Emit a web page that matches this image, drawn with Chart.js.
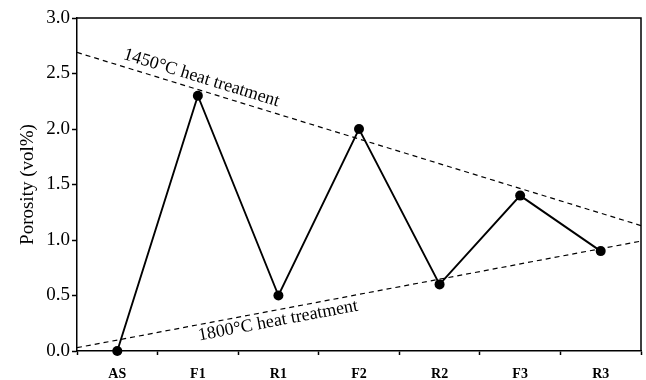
<!DOCTYPE html>
<html>
<head>
<meta charset="utf-8">
<script src="https://cdn.jsdelivr.net/npm/chart.js@4/dist/chart.umd.min.js"></script>
<style>
  html, body { margin: 0; padding: 0; background: #fff; }
  #wrap { width: 646px; height: 380px; }
</style>
</head>
<body>
<div id="wrap"><canvas id="c" width="646" height="380"></canvas></div>
<script>
// Sample stages along the heat-treatment sequence
const stages = ['AS', 'F1', 'R1', 'F2', 'R2', 'F3', 'R3'];
// Measured porosity (vol%) at each stage
const porosity = [0.0, 2.3, 0.5, 2.0, 0.6, 1.4, 0.9];
// Guide lines spanning the plot: value at left edge and right edge
const trendEdges = [-0.5, 6.5];
const upperTrend = [2.69, 1.13];   // 1450°C heat treatment
const lowerTrend = [0.03, 0.99];   // 1800°C heat treatment
const upperLabel = '1450°C heat treatment';
const lowerLabel = '1800°C heat treatment';
const yTicks = [0, 0.5, 1.0, 1.5, 2.0, 2.5, 3.0];

const SERIF = '"Liberation Serif", "DejaVu Serif", serif';

// Frame: top and right edges of the plot box
const framePlugin = {
  id: 'frame',
  afterDraw(chart) {
    const { ctx, chartArea: a } = chart;
    ctx.save();
    ctx.strokeStyle = '#000';
    ctx.lineWidth = 1.5;
    ctx.beginPath();
    ctx.moveTo(a.left, a.top);
    ctx.lineTo(a.right, a.top);
    ctx.lineTo(a.right, a.bottom);
    ctx.stroke();
    ctx.restore();
  }
};

// Labels written along each guide line
const guideLabelPlugin = {
  id: 'guideLabels',
  afterDatasetsDraw(chart) {
    const { ctx } = chart;
    const xs = chart.scales.xt, ys = chart.scales.y;
    const put = (vals, text, xVal, offset) => {
      const x0 = xs.getPixelForValue(trendEdges[0]), y0 = ys.getPixelForValue(vals[0]);
      const x1 = xs.getPixelForValue(trendEdges[1]), y1 = ys.getPixelForValue(vals[1]);
      const ang = Math.atan2(y1 - y0, x1 - x0);
      const px = xs.getPixelForValue(xVal);
      const t = (px - x0) / (x1 - x0);
      const py = y0 + t * (y1 - y0);
      ctx.save();
      ctx.translate(px, py);
      ctx.rotate(ang);
      ctx.font = '18px ' + SERIF;
      ctx.fillStyle = '#000';
      ctx.textAlign = 'center';
      ctx.textBaseline = 'middle';
      ctx.fillText(text, 0, offset);
      ctx.restore();
    };
    put(upperTrend, upperLabel, 1.0, -12);
    put(lowerTrend, lowerLabel, 1.97, 11);
  }
};

new Chart(document.getElementById('c'), {
  type: 'line',
  data: {
    labels: stages,
    datasets: [
      {
        data: porosity,
        borderColor: '#000',
        backgroundColor: '#000',
        borderWidth: 1.9,
        pointRadius: 5,
        pointHoverRadius: 5,
        pointBackgroundColor: '#000',
        pointBorderWidth: 0,
        tension: 0,
        clip: false
      },
      {
        data: trendEdges.map((x, i) => ({ x, y: upperTrend[i] })),
        xAxisID: 'xt',
        borderColor: '#000',
        borderWidth: 1.2,
        borderDash: [5, 4],
        pointRadius: 0,
        tension: 0
      },
      {
        data: trendEdges.map((x, i) => ({ x, y: lowerTrend[i] })),
        xAxisID: 'xt',
        borderColor: '#000',
        borderWidth: 1.2,
        borderDash: [5, 4],
        pointRadius: 0,
        tension: 0
      }
    ]
  },
  options: {
    responsive: false,
    animation: false,
    devicePixelRatio: 1,
    layout: { padding: { top: 18, right: 1, left: 0, bottom: 0 } },
    plugins: { legend: { display: false }, tooltip: { enabled: false } },
    scales: {
      x: {
        type: 'category',
        offset: true,
        grid: {
          offset: true,
          display: true,
          drawOnChartArea: false,
          drawTicks: true,
          tickLength: 4,
          tickWidth: 1.5,
          color: '#000'
        },
        border: { display: true, color: '#000', width: 1.5 },
        ticks: {
          color: '#000',
          padding: 11,
          maxRotation: 0,
          font: { family: SERIF, size: 14, weight: 'bold' }
        },
        afterFit(s) { s.height = 29; }
      },
      xt: {
        type: 'linear',
        display: false,
        min: trendEdges[0],
        max: trendEdges[1]
      },
      y: {
        min: 0,
        max: 3,
        afterBuildTicks(s) { s.ticks = yTicks.map(v => ({ value: v })); },
        grid: {
          display: true,
          drawOnChartArea: false,
          drawTicks: true,
          tickLength: 5,
          tickWidth: 1.5,
          color: '#000'
        },
        border: { display: true, color: '#000', width: 1.5 },
        ticks: {
          color: '#000',
          padding: 2,
          font: { family: SERIF, size: 19 },
          callback: v => Number(v).toFixed(1)
        },
        title: {
          display: true,
          text: 'Porosity (vol%)',
          color: '#000',
          padding: { top: 17, bottom: 4 },
          font: { family: SERIF, size: 19 }
        },
        afterFit(s) { s.width = 77; }
      }
    }
  },
  plugins: [framePlugin, guideLabelPlugin]
});
</script>
</body>
</html>
